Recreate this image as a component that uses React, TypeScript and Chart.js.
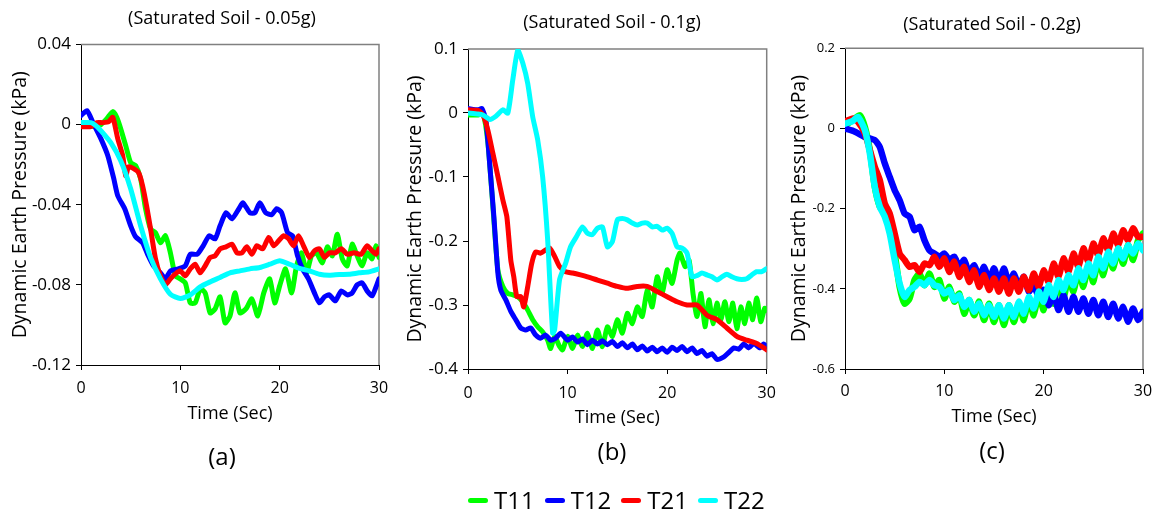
import React, { useEffect, useRef } from "react";
import { Chart, registerables } from "chart.js";

Chart.register(...registerables);

// ---------- Data ----------
const SERIES_NAMES = ["T11", "T12", "T21", "T22"];
const SERIES_COLORS = ["#00FF00", "#0000FF", "#FF0000", "#00FFFF"];
const PANEL_TITLES = ["(Saturated Soil - 0.05g)", "(Saturated Soil - 0.1g)", "(Saturated Soil - 0.2g)"];
const PANEL_LABELS = ["(a)", "(b)", "(c)"];
const X_TITLE = "Time (Sec)";
const Y_TITLE = "Dynamic Earth Pressure (kPa)";
const X_TICKS = [0, 10, 20, 30];
const Y_TICKS_A = [-0.12, -0.08, -0.04, 0, 0.04];
const Y_TICKS_B = [-0.4, -0.3, -0.2, -0.1, 0, 0.1];
const Y_TICKS_C = [-0.6, -0.4, -0.2, 0, 0.2];

type P = [number, number][];

// Panel (a) 0.05g
const A_T11: P = [[0,0.001],[0.8,-0.0005],[1.5,-0.001],[2,0],[2.6,0.003],[3.2,0.0065],[3.6,0.0037],[4,-0.002],[4.5,-0.0105],[5,-0.019],[5.5,-0.0205],[6,-0.027],[6.5,-0.042],[7,-0.052],[7.5,-0.054],[8,-0.059],[8.5,-0.0555],[9,-0.064],[9.5,-0.0755],[10,-0.077],[10.5,-0.079],[11,-0.089],[11.5,-0.089],[12,-0.082],[12.5,-0.084],[13,-0.094],[13.5,-0.092],[14,-0.086],[14.5,-0.099],[15,-0.0955],[15.5,-0.084],[16,-0.094],[16.6,-0.092],[17.2,-0.087],[17.8,-0.0955],[18.4,-0.084],[19,-0.077],[19.5,-0.089],[20,-0.0805],[20.6,-0.072],[21.2,-0.084],[21.7,-0.0705],[22.2,-0.064],[22.7,-0.074],[23.2,-0.0655],[23.7,-0.064],[24.3,-0.069],[24.8,-0.061],[25.3,-0.0655],[25.8,-0.0547],[26.3,-0.067],[26.8,-0.0705],[27.3,-0.0597],[27.8,-0.0655],[28.3,-0.0705],[28.8,-0.064],[29.3,-0.067],[29.7,-0.0605],[30,-0.0663]];
const A_T12: P = [[0,0.0045],[0.6,0.007],[1.3,0],[2,-0.007],[2.7,-0.0155],[3.3,-0.027],[3.7,-0.0355],[4.4,-0.042],[5,-0.0505],[5.5,-0.056],[6.2,-0.059],[6.7,-0.0647],[7.3,-0.0705],[8,-0.074],[8.5,-0.077],[9,-0.073],[9.8,-0.072],[10.5,-0.0705],[11,-0.0647],[11.7,-0.0647],[12.3,-0.0605],[12.9,-0.0555],[13.5,-0.057],[14,-0.0505],[14.6,-0.044],[15.2,-0.047],[15.9,-0.042],[16.3,-0.039],[17,-0.044],[17.5,-0.044],[18,-0.039],[18.6,-0.044],[19.2,-0.045],[19.7,-0.042],[20.2,-0.044],[20.8,-0.054],[21.3,-0.0555],[21.8,-0.0655],[22.3,-0.072],[22.9,-0.077],[23.5,-0.084],[24,-0.089],[24.5,-0.086],[25,-0.085],[25.6,-0.088],[26.2,-0.083],[26.8,-0.085],[27.3,-0.084],[27.8,-0.08],[28.3,-0.079],[28.8,-0.083],[29.3,-0.0855],[29.7,-0.081],[30,-0.077]];
const A_T21: P = [[0,-0.001],[1,-0.001],[1.6,0.001],[2.2,0.001],[2.8,0.0015],[3.2,0.0037],[3.7,-0.007],[4.2,-0.0155],[4.5,-0.0255],[4.8,-0.021],[5.3,-0.022],[5.8,-0.024],[6.2,-0.0305],[6.6,-0.0405],[7,-0.052],[7.5,-0.067],[8,-0.0755],[8.5,-0.08],[9,-0.077],[9.5,-0.0745],[10,-0.073],[10.5,-0.0755],[11,-0.072],[11.5,-0.0697],[12,-0.074],[12.5,-0.0705],[13,-0.0663],[13.5,-0.0655],[14,-0.062],[14.6,-0.061],[15.2,-0.0597],[15.7,-0.064],[16.2,-0.064],[16.7,-0.061],[17.2,-0.0647],[17.7,-0.0605],[18.3,-0.062],[18.9,-0.0563],[19.4,-0.0605],[19.9,-0.058],[20.4,-0.0555],[20.9,-0.057],[21.4,-0.0605],[21.9,-0.0555],[22.4,-0.0605],[23,-0.0663],[23.5,-0.063],[24,-0.062],[24.5,-0.0663],[25,-0.064],[25.6,-0.064],[26.2,-0.062],[26.8,-0.0647],[27.5,-0.064],[28.2,-0.0647],[28.8,-0.0605],[29.3,-0.063],[29.7,-0.0647],[30,-0.062]];
const A_T22: P = [[0,0.001],[1,0.001],[1.5,-0.0005],[2,-0.003],[3,-0.009],[4,-0.018],[5,-0.032],[6,-0.0505],[7,-0.0663],[8,-0.077],[9,-0.0847],[10,-0.0868],[11,-0.085],[12,-0.081],[13,-0.0785],[14,-0.0763],[15,-0.074],[16,-0.073],[17,-0.072],[18,-0.0713],[19,-0.0697],[20,-0.068],[21,-0.0697],[22,-0.0718],[23,-0.073],[24,-0.0747],[25,-0.0752],[26,-0.0748],[27,-0.0747],[28,-0.074],[29,-0.0735],[30,-0.072]];

// Panel (b) 0.1g
const B_T11: P = [[0,-0.003],[1,-0.003],[1.5,0],[2,-0.047],[2.5,-0.146],[3,-0.245],[3.5,-0.271],[4,-0.282],[4.5,-0.284],[5,-0.287],[5.5,-0.295],[6,-0.308],[6.5,-0.323],[7,-0.334],[7.5,-0.342],[8,-0.355],[8.3,-0.368],[8.7,-0.349],[9.2,-0.365],[9.5,-0.37],[10,-0.349],[10.5,-0.368],[11,-0.347],[11.5,-0.365],[12,-0.344],[12.5,-0.368],[13,-0.339],[13.5,-0.365],[14,-0.334],[14.5,-0.349],[15,-0.323],[15.5,-0.344],[16,-0.313],[16.5,-0.329],[17,-0.303],[17.5,-0.318],[18,-0.277],[18.5,-0.303],[19,-0.256],[19.5,-0.282],[20,-0.245],[20.5,-0.266],[21,-0.23],[21.3,-0.219],[21.8,-0.24],[22.2,-0.23],[22.6,-0.282],[23,-0.318],[23.4,-0.282],[23.8,-0.334],[24.2,-0.292],[24.6,-0.329],[25,-0.297],[25.4,-0.323],[25.8,-0.295],[26.2,-0.326],[26.6,-0.297],[27,-0.337],[27.4,-0.303],[27.8,-0.329],[28.2,-0.297],[28.6,-0.323],[29,-0.289],[29.4,-0.326],[29.8,-0.305],[30,-0.308]];
const B_T12: P = [[0,0.007],[1,0.005],[1.4,0.007],[1.8,-0.011],[2.2,-0.084],[2.6,-0.162],[3,-0.25],[3.3,-0.277],[3.8,-0.292],[4.3,-0.31],[4.8,-0.323],[5.3,-0.336],[5.8,-0.339],[6.3,-0.336],[6.8,-0.347],[7.3,-0.352],[7.8,-0.347],[8.3,-0.355],[8.8,-0.352],[9.3,-0.344],[10,-0.355],[10.5,-0.35],[11,-0.358],[11.5,-0.353],[12,-0.362],[12.5,-0.355],[13,-0.361],[13.5,-0.356],[14,-0.362],[14.5,-0.357],[15,-0.365],[15.5,-0.359],[16,-0.367],[16.5,-0.361],[17,-0.37],[17.5,-0.364],[18,-0.372],[18.5,-0.366],[19,-0.373],[19.5,-0.367],[20,-0.374],[20.5,-0.366],[21,-0.371],[21.5,-0.365],[22,-0.373],[22.5,-0.367],[23,-0.376],[23.5,-0.371],[24,-0.38],[24.5,-0.376],[25,-0.385],[25.7,-0.381],[26.2,-0.374],[26.7,-0.367],[27.2,-0.369],[27.7,-0.361],[28.2,-0.367],[28.7,-0.36],[29.3,-0.367],[29.7,-0.361],[30,-0.365]];
const B_T21: P = [[0,0.005],[1,0.004],[1.5,-0.003],[2,-0.027],[2.5,-0.063],[3,-0.099],[3.5,-0.136],[3.9,-0.162],[4.3,-0.23],[4.6,-0.256],[4.9,-0.287],[5.3,-0.287],[5.6,-0.303],[6,-0.271],[6.4,-0.235],[6.8,-0.217],[7.3,-0.219],[7.8,-0.214],[8.2,-0.211],[8.7,-0.224],[9.2,-0.24],[9.8,-0.248],[10.5,-0.25],[11.3,-0.253],[12,-0.256],[13,-0.261],[14,-0.266],[15,-0.271],[16,-0.274],[17,-0.271],[18,-0.271],[19,-0.279],[20,-0.287],[21,-0.295],[22,-0.3],[23,-0.3],[24,-0.316],[25,-0.323],[26,-0.336],[27,-0.349],[28,-0.355],[29,-0.36],[30,-0.37]];
const B_T22: P = [[0,0],[1,-0.0015],[1.5,-0.003],[2.2,-0.01],[2.8,-0.005],[3.5,0.005],[4,0],[4.5,0.052],[5,0.098],[5.5,0.078],[6,0.046],[6.5,-0.006],[7,-0.042],[7.5,-0.1],[8,-0.198],[8.5,-0.344],[8.7,-0.339],[9.2,-0.26],[9.8,-0.235],[10.3,-0.209],[10.9,-0.193],[11.5,-0.178],[12,-0.188],[12.5,-0.19],[13,-0.18],[13.5,-0.178],[14,-0.209],[14.5,-0.201],[15,-0.167],[15.5,-0.165],[16,-0.167],[16.5,-0.172],[17,-0.175],[17.5,-0.172],[18,-0.172],[18.5,-0.178],[19,-0.177],[19.5,-0.183],[20,-0.18],[20.5,-0.188],[21,-0.209],[21.5,-0.211],[22,-0.219],[22.5,-0.256],[23,-0.254],[23.5,-0.25],[24,-0.253],[24.5,-0.256],[25,-0.261],[25.5,-0.256],[26,-0.252],[26.5,-0.256],[27,-0.259],[27.5,-0.26],[28,-0.259],[28.5,-0.253],[29,-0.248],[29.5,-0.248],[30,-0.243]];

// Panel (c) 0.2g
const C_T11: P = [[0,0.008],[0.8,0.021],[1.5,0.033],[2,0.004],[2.5,-0.054],[3,-0.146],[3.5,-0.195],[4,-0.212],[4.5,-0.254],[5,-0.312],[5.5,-0.395],[6,-0.437],[6.5,-0.424],[7,-0.378],[7.5,-0.362],[8,-0.391],[8.5,-0.362],[9,-0.395],[9.5,-0.378],[10,-0.424],[10.5,-0.395],[11,-0.432],[11.5,-0.412],[12,-0.462],[12.5,-0.428],[13,-0.466],[13.5,-0.432],[14,-0.478],[14.5,-0.437],[15,-0.483],[15.5,-0.441],[16,-0.49],[16.5,-0.441],[17,-0.483],[17.5,-0.437],[18,-0.478],[18.5,-0.424],[19,-0.466],[19.5,-0.412],[20,-0.453],[20.5,-0.395],[21,-0.437],[21.5,-0.383],[22,-0.424],[22.5,-0.37],[23,-0.407],[23.5,-0.353],[24,-0.395],[24.5,-0.341],[25,-0.383],[25.5,-0.324],[26,-0.366],[26.5,-0.312],[27,-0.349],[27.5,-0.299],[28,-0.337],[28.5,-0.291],[29,-0.328],[29.5,-0.279],[30,-0.262]];
const C_T12: P = [[0,0],[1,-0.008],[2,-0.021],[3,-0.029],[3.5,-0.046],[4,-0.087],[4.5,-0.121],[5,-0.154],[5.5,-0.179],[6,-0.212],[6.5,-0.22],[7,-0.254],[7.5,-0.245],[8,-0.279],[8.5,-0.304],[9,-0.312],[9.5,-0.32],[10,-0.312],[10.5,-0.328],[11,-0.32],[11.5,-0.345],[12,-0.328],[12.5,-0.362],[13,-0.341],[13.5,-0.37],[14,-0.345],[14.5,-0.378],[15,-0.349],[15.5,-0.383],[16,-0.349],[16.5,-0.387],[17,-0.362],[17.5,-0.395],[18,-0.37],[18.5,-0.407],[19,-0.391],[19.5,-0.42],[20,-0.403],[20.5,-0.441],[21,-0.412],[21.5,-0.453],[22,-0.416],[22.5,-0.457],[23,-0.42],[23.5,-0.457],[24,-0.424],[24.5,-0.462],[25,-0.428],[25.5,-0.466],[26,-0.432],[26.5,-0.47],[27,-0.437],[27.5,-0.474],[28,-0.445],[28.5,-0.482],[29,-0.449],[29.5,-0.478],[30,-0.457]];
const C_T21: P = [[0,0.017],[0.8,0.025],[1.3,0.017],[2,-0.012],[2.5,-0.054],[3,-0.096],[3.5,-0.129],[4,-0.187],[4.5,-0.212],[5,-0.262],[5.5,-0.312],[6,-0.328],[6.5,-0.345],[7,-0.341],[7.5,-0.358],[8,-0.337],[8.5,-0.341],[9,-0.32],[9.5,-0.345],[10,-0.324],[10.5,-0.358],[11,-0.332],[11.5,-0.37],[12,-0.345],[12.5,-0.383],[13,-0.354],[13.5,-0.395],[14,-0.366],[14.5,-0.403],[15,-0.374],[15.5,-0.407],[16,-0.374],[16.5,-0.412],[17,-0.374],[17.5,-0.407],[18,-0.37],[18.5,-0.403],[19,-0.362],[19.5,-0.395],[20,-0.354],[20.5,-0.383],[21,-0.337],[21.5,-0.37],[22,-0.324],[22.5,-0.358],[23,-0.312],[23.5,-0.345],[24,-0.299],[24.5,-0.332],[25,-0.287],[25.5,-0.316],[26,-0.274],[26.5,-0.304],[27,-0.262],[27.5,-0.291],[28,-0.254],[28.5,-0.279],[29,-0.249],[29.5,-0.27],[30,-0.27]];
const C_T22: P = [[0,0.012],[0.8,0.019],[1.3,0.029],[2,-0.004],[2.5,-0.062],[3,-0.146],[3.5,-0.195],[4,-0.22],[4.5,-0.262],[5,-0.328],[5.5,-0.387],[6,-0.42],[6.5,-0.403],[7,-0.395],[7.5,-0.383],[8,-0.391],[8.5,-0.378],[9,-0.391],[9.5,-0.395],[10,-0.412],[10.5,-0.403],[11,-0.428],[11.5,-0.416],[12,-0.445],[12.5,-0.428],[13,-0.457],[13.5,-0.437],[14,-0.466],[14.5,-0.441],[15,-0.47],[15.5,-0.441],[16,-0.474],[16.5,-0.441],[17,-0.47],[17.5,-0.432],[18,-0.462],[18.5,-0.42],[19,-0.449],[19.5,-0.407],[20,-0.432],[20.5,-0.391],[21,-0.42],[21.5,-0.378],[22,-0.403],[22.5,-0.366],[23,-0.391],[23.5,-0.349],[24,-0.378],[24.5,-0.337],[25,-0.366],[25.5,-0.32],[26,-0.349],[26.5,-0.308],[27,-0.337],[27.5,-0.299],[28,-0.324],[28.5,-0.291],[29,-0.312],[29.5,-0.287],[30,-0.304]];

const PANEL_DATA: P[][] = [
  [A_T11, A_T12, A_T21, A_T22],
  [B_T11, B_T12, B_T21, B_T22],
  [C_T11, C_T12, C_T21, C_T22],
];
const PANEL_Y_TICKS = [Y_TICKS_A, Y_TICKS_B, Y_TICKS_C];

// ---------- Layout / style ----------
const FONT = "'Open Sans', 'DejaVu Sans', sans-serif";
const CANVAS_H = 480;
const TITLE_FONT = 18;
const X_TITLE_FONT = 18;
const Y_TITLE_FONT = 19.5;
const LABEL_FONT = 24;
const X_TICK_FONT = 16;
const TICK_LEN = 5;

const LAYOUT = [
  { left: 0, width: 444, areaLeft: 81, areaRight: 379, areaTop: 44.5, areaBottom: 365, titleY: 19, yTitleX: 20, xTickY: 388, xTitleY: 414, labelY: 458, yTickFont: 17, lineWidth: 5 },
  { left: 390, width: 444, areaLeft: 78, areaRight: 376.7, areaTop: 49, areaBottom: 369, titleY: 23.3, yTitleX: 25.8, xTickY: 393.3, xTitleY: 418.3, labelY: 453.3, yTickFont: 17, lineWidth: 5 },
  { left: 785, width: 414, areaLeft: 60, areaRight: 358, areaTop: 48.3, areaBottom: 369, titleY: 25, yTitleX: 14, xTickY: 391.7, xTitleY: 416.7, labelY: 451.7, yTickFont: 13, lineWidth: 6.5 },
];

const fmt = (v: number) => String(+(+v).toFixed(3));

const framePlugin = {
  id: "frameTopRight",
  beforeDatasetsDraw(chart: any) {
    const { ctx, chartArea: a } = chart;
    ctx.save();
    ctx.strokeStyle = "#808080";
    ctx.lineWidth = 1.5;
    ctx.beginPath();
    ctx.moveTo(a.left, a.top);
    ctx.lineTo(a.right, a.top);
    ctx.lineTo(a.right, a.bottom);
    ctx.stroke();
    ctx.restore();
  },
};

function Panel({ idx }: { idx: number }) {
  const ref = useRef<HTMLCanvasElement>(null);
  useEffect(() => {
    const L = LAYOUT[idx];
    const yTicks = PANEL_Y_TICKS[idx];
    const tLh = TITLE_FONT * 1.2;
    const titleTop = L.titleY - tLh / 2;
    const titleBottom = L.areaTop - titleTop - tLh;
    const sLh = LABEL_FONT * 1.2;
    const subBottom = CANVAS_H - L.labelY - sLh / 2;
    const subTop = 2;
    const boxTop = CANVAS_H - subBottom - sLh - subTop;
    const xAxisH = boxTop - L.areaBottom;
    const xTickPad = L.xTickY - L.areaBottom - TICK_LEN - (X_TICK_FONT * 1.2) / 2;
    const xTitleBottom = boxTop - L.xTitleY - (X_TITLE_FONT * 1.2) / 2;
    const yTitleTop = L.yTitleX - (Y_TITLE_FONT * 1.2) / 2;

    const datasets = PANEL_DATA[idx].map((pts, i) => ({
      label: SERIES_NAMES[i],
      data: pts.map(([x, y]) => ({ x, y })),
      borderColor: SERIES_COLORS[i],
      backgroundColor: SERIES_COLORS[i],
      borderWidth: L.lineWidth,
      pointRadius: 0,
      tension: 0.2,
      fill: false,
      order: 3 - i,
      borderCapStyle: "round" as const,
      borderJoinStyle: "round" as const,
      xAxisID: "x",
      yAxisID: "y",
    }));

    const chart = new Chart(ref.current as HTMLCanvasElement, {
      type: "line",
      data: { datasets },
      plugins: [framePlugin],
      options: {
        animation: false,
        responsive: false,
        events: [],
        layout: { padding: 0 },
        plugins: {
          legend: { display: false },
          tooltip: { enabled: false },
          title: {
            display: true,
            text: PANEL_TITLES[idx],
            color: "#000",
            font: { family: FONT, size: TITLE_FONT, weight: "normal", lineHeight: 1.2 },
            padding: { top: titleTop, bottom: titleBottom },
          },
          subtitle: {
            display: true,
            position: "bottom",
            text: PANEL_LABELS[idx],
            color: "#000",
            font: { family: FONT, size: LABEL_FONT, weight: "normal", lineHeight: 1.2 },
            padding: { top: subTop, bottom: subBottom },
          },
        },
        scales: {
          x: {
            type: "linear",
            position: "bottom",
            min: 0,
            max: 30,
            afterBuildTicks: (s: any) => { s.ticks = X_TICKS.map((v) => ({ value: v })); },
            afterFit: (s: any) => { s.height = xAxisH; },
            ticks: {
              color: "#000",
              padding: xTickPad,
              maxRotation: 0,
              font: { family: FONT, size: X_TICK_FONT, lineHeight: 1.2 },
              callback: (v: any) => fmt(v),
            },
            grid: { display: true, drawOnChartArea: false, drawTicks: true, tickLength: TICK_LEN, color: "#000", lineWidth: 1 },
            border: { display: true, color: "#000", width: 1 },
            title: {
              display: true,
              text: X_TITLE,
              color: "#000",
              font: { family: FONT, size: X_TITLE_FONT, lineHeight: 1.2 },
              padding: { top: 0, bottom: xTitleBottom },
            },
          },
          y: {
            type: "linear",
            position: "left",
            min: yTicks[0],
            max: yTicks[yTicks.length - 1],
            afterBuildTicks: (s: any) => { s.ticks = yTicks.map((v) => ({ value: v })); },
            afterFit: (s: any) => { s.width = L.areaLeft; },
            ticks: {
              color: "#000",
              padding: 5,
              font: { family: FONT, size: L.yTickFont, lineHeight: 1.2 },
              callback: (v: any) => fmt(v),
            },
            grid: { display: true, drawOnChartArea: false, drawTicks: true, tickLength: TICK_LEN, color: "#000", lineWidth: 1 },
            border: { display: true, color: "#000", width: 1 },
            title: {
              display: true,
              text: Y_TITLE,
              color: "#000",
              font: { family: FONT, size: Y_TITLE_FONT, lineHeight: 1.2 },
              padding: { top: yTitleTop, bottom: 0 },
            },
          },
          yRight: {
            type: "linear",
            position: "right",
            display: true,
            min: 0,
            max: 1,
            afterFit: (s: any) => { s.width = L.width - L.areaRight; },
            ticks: { display: false },
            grid: { display: false },
            border: { display: false },
          },
        },
      } as any,
    });
    return () => chart.destroy();
  }, [idx]);

  const L = LAYOUT[idx];
  return (
    <canvas
      ref={ref}
      width={L.width}
      height={CANVAS_H}
      style={{ position: "absolute", left: L.left, top: 0, width: L.width, height: CANVAS_H }}
    />
  );
}

function Legend() {
  return (
    <div
      style={{
        position: "absolute",
        left: 468,
        top: 486,
        height: 28,
        display: "flex",
        alignItems: "center",
        fontFamily: FONT,
        fontSize: 24,
        lineHeight: "28px",
        color: "#000",
        whiteSpace: "nowrap",
      }}
    >
      {SERIES_NAMES.map((n, i) => (
        <div key={n} style={{ display: "flex", alignItems: "center", marginRight: i < SERIES_NAMES.length - 1 ? 10 : 0 }}>
          <span style={{ display: "inline-block", width: 20, height: 5, borderRadius: 2.5, background: SERIES_COLORS[i], marginRight: 6 }} />
          <span>{n}</span>
        </div>
      ))}
    </div>
  );
}

export default function App() {
  return (
    <div style={{ position: "absolute", left: 0, top: 0, width: 1156, height: 515, overflow: "hidden", background: "#fff" }}>
      <Panel idx={0} />
      <Panel idx={1} />
      <Panel idx={2} />
      <Legend />
    </div>
  );
}
